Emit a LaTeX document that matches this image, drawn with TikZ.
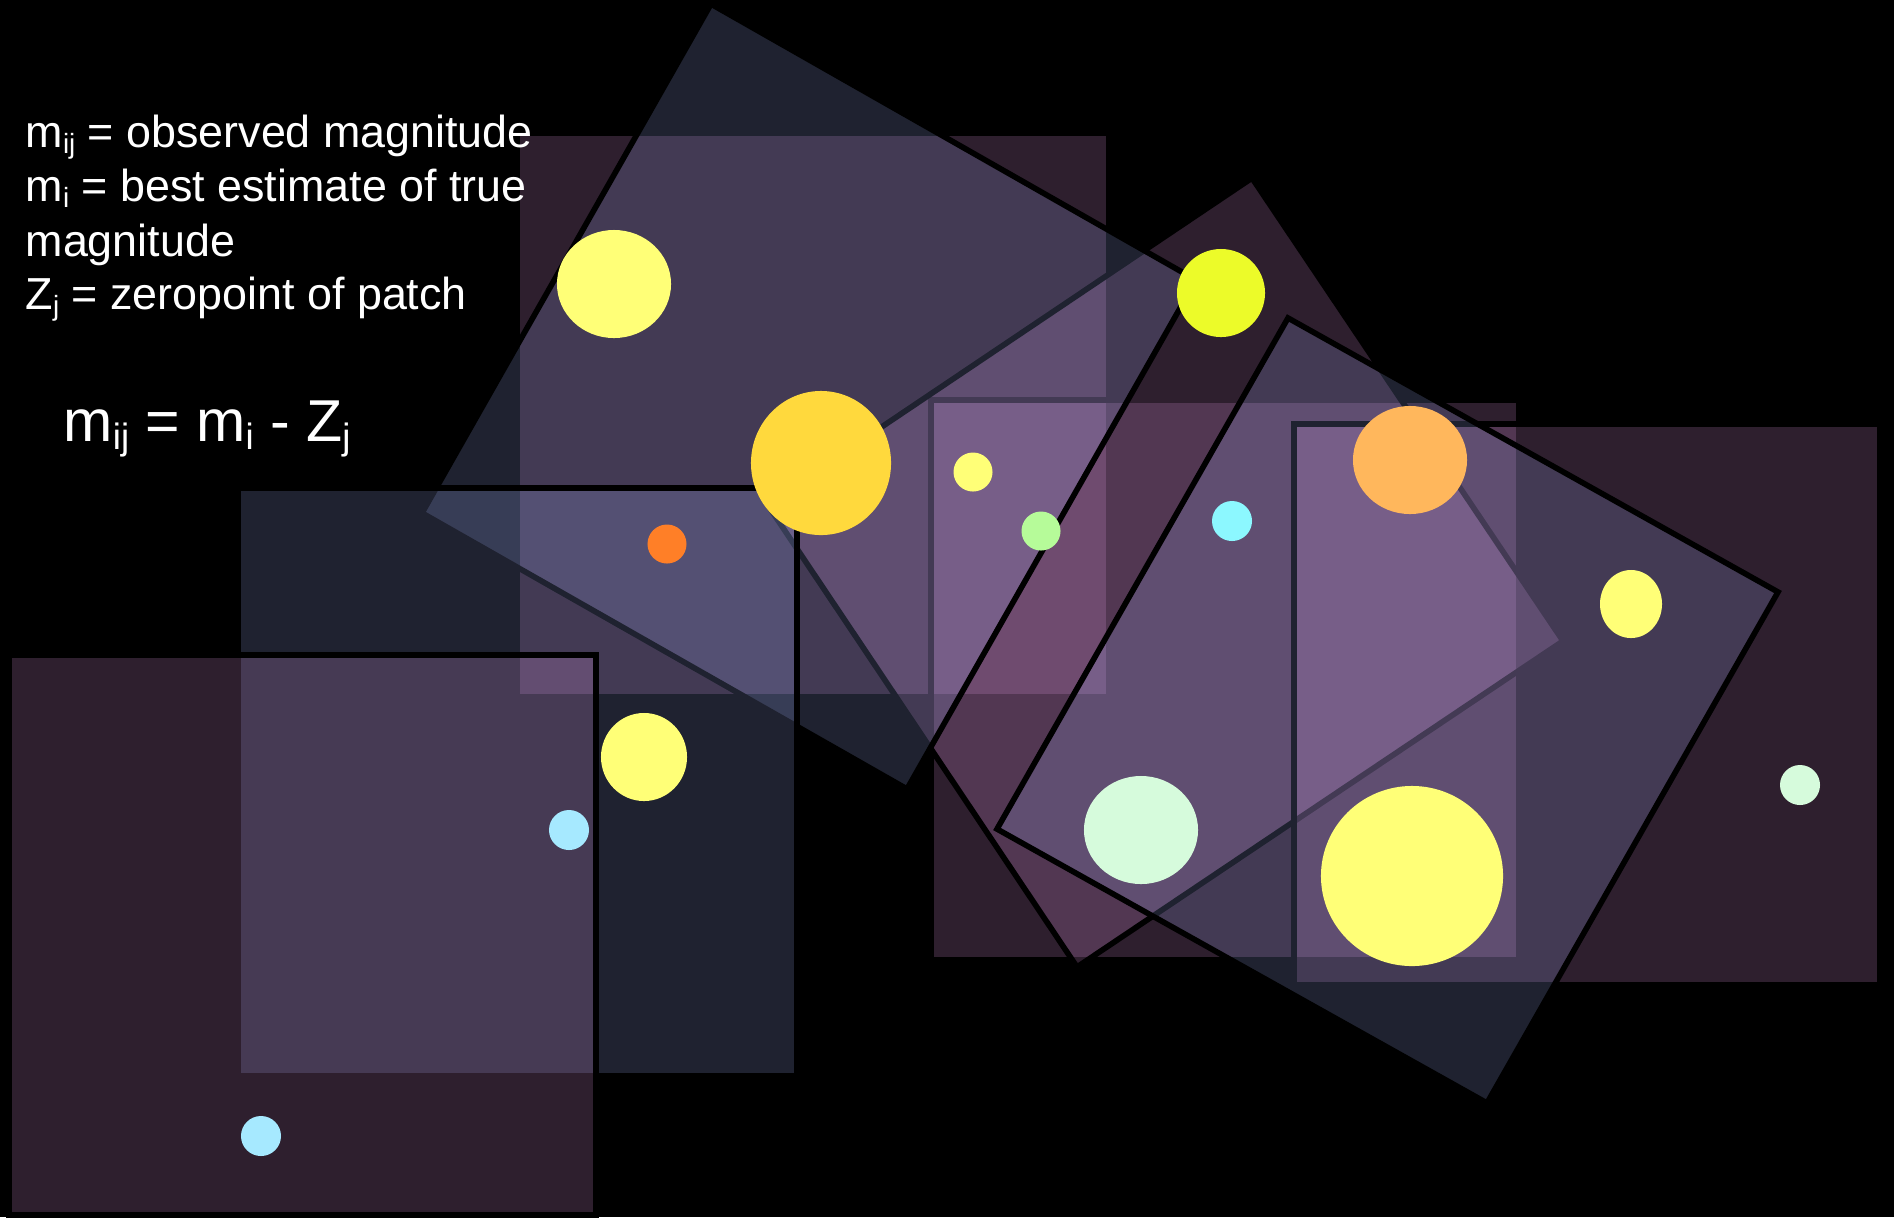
\documentclass[tikz,border=0pt]{standalone}
\usepackage{fontspec}
\setmainfont{Liberation Sans}
\definecolor{pM}{RGB}{230,155,230}
\definecolor{pN}{RGB}{155,170,240}
\definecolor{cYel}{HTML}{FFFF77}
\definecolor{cLime}{HTML}{ECFB29}
\definecolor{cGold}{HTML}{FFD93D}
\definecolor{cGreen}{HTML}{B6FB99}
\definecolor{cOrange}{HTML}{FF7F27}
\definecolor{cCyan}{HTML}{8CF8FF}
\definecolor{cApricot}{HTML}{FFB75C}
\definecolor{cSky}{HTML}{A6E9FF}
\definecolor{cMint}{HTML}{D6FBDC}
\newcommand{\subtxt}[1]{\raisebox{-0.14em}{\scalebox{0.62}{#1}}}
\tikzset{
  mpatch/.style={fill=pM, fill opacity=0.2},
  npatch/.style={fill=pN, fill opacity=0.2},
  edgeline/.style={draw=black, line width=1.6pt, line join=miter},
  legendtxt/.style={text=white, inner sep=0pt, anchor=base west, font=\fontsize{12.75pt}{15pt}\selectfont},
  eqtxt/.style={text=white, inner sep=0pt, anchor=base west, font=\fontsize{16.8pt}{20pt}\selectfont}
}
\begin{document}
\begin{tikzpicture}[x=0.01cm,y=-0.01cm]
\fill[black] (0,0) rectangle (1894,1217);
\useasboundingbox (0,0) rectangle (1894,1217);
% patches, bottom to top
\fill[mpatch] (520,136) rectangle (1106,694);
\filldraw[mpatch, edgeline] (931,400) rectangle (1519,960);
\filldraw[mpatch, edgeline] (1252,178) -- (1563,641) -- (1077,967) -- (767,504) -- cycle;
\filldraw[npatch, edgeline] (711,4) -- (1196,280) -- (907,789) -- (422,513) -- cycle;
\filldraw[npatch, edgeline] (238,488) rectangle (797,1076);
\filldraw[mpatch, edgeline] (9,655) rectangle (596,1215);
\filldraw[mpatch, edgeline] (1294,424) rectangle (1880,985);
\filldraw[npatch, edgeline] (1288,318) -- (1778,592) -- (1487,1103) -- (997,829) -- cycle;
% stars
\fill[cYel] (614,284) ellipse [x radius=0.57cm, y radius=0.54cm];
\fill[cLime] (1221,293) ellipse [x radius=0.44cm, y radius=0.44cm];
\fill[cGold] (821,463) ellipse [x radius=0.70cm, y radius=0.72cm];
\fill[cYel] (973,472) ellipse [x radius=0.195cm, y radius=0.195cm];
\fill[cGreen] (1041,531) ellipse [x radius=0.195cm, y radius=0.195cm];
\fill[cOrange] (667,544) ellipse [x radius=0.195cm, y radius=0.195cm];
\fill[cCyan] (1232,521) ellipse [x radius=0.20cm, y radius=0.20cm];
\fill[cApricot] (1410,460) ellipse [x radius=0.57cm, y radius=0.54cm];
\fill[cYel] (1631,604) ellipse [x radius=0.31cm, y radius=0.34cm];
\fill[cYel] (644,757) ellipse [x radius=0.43cm, y radius=0.44cm];
\fill[cSky] (569,830) ellipse [x radius=0.20cm, y radius=0.20cm];
\fill[cSky] (261,1136) ellipse [x radius=0.20cm, y radius=0.20cm];
\fill[cMint] (1141,830) ellipse [x radius=0.57cm, y radius=0.54cm];
\fill[cYel] (1412,876) ellipse [x radius=0.91cm, y radius=0.90cm];
\fill[cMint] (1800,785) ellipse [x radius=0.20cm, y radius=0.20cm];
% legend
\node[legendtxt] (l1) at (25,147) {m\subtxt{ij} = observed magnitude};
\node[legendtxt] (l2) at (25,201) {m\subtxt{i} = best estimate of true};
\node[legendtxt] (l3) at (25,256) {magnitude};
\node[legendtxt] (l4) at (25,309) {Z\subtxt{j} = zeropoint of patch};
\node[eqtxt] (eq) at (63,441) {m\subtxt{ij} = m\subtxt{i} - Z\subtxt{j}};
\end{tikzpicture}
\end{document}
